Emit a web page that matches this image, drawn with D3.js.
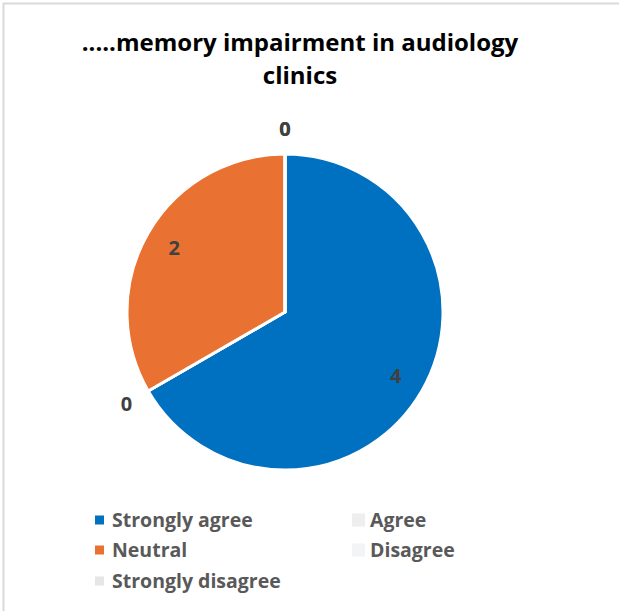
<!DOCTYPE html>
<html>
<head>
<meta charset="utf-8">
<script src="https://cdn.jsdelivr.net/npm/d3@7"></script>
<style>
  body { margin: 0; background: #fff; }
  svg { display: block; }
</style>
</head>
<body>
<svg width="619" height="611"></svg>
<script>
const categories = ["Strongly agree", "Agree", "Neutral", "Disagree", "Strongly disagree"];
const counts = [4, 0, 2, 0, 0];
const sliceColors = ["#0070C0", "#EEEEEE", "#E97132", "#F3F4F6", "#E6E6E6"];
const titleLines = [".....memory impairment in audiology", "clinics"];

const font = "'Open Sans', sans-serif";
const svg = d3.select("svg");
const data = categories.map((c, i) => ({ category: c, value: counts[i] }));

const color = d3.scaleOrdinal().domain(categories).range(sliceColors);

// chart border (cut off on the right and bottom in the original)
svg.append("rect")
    .attr("x", 3.5).attr("y", 3.5)
    .attr("width", 700).attr("height", 700)
    .attr("fill", "none")
    .attr("stroke", "#d9d9d9")
    .attr("stroke-width", 2);

// title
svg.append("text")
    .attr("y", 51)
    .attr("text-anchor", "middle")
    .style("font-family", font)
    .style("font-weight", 700)
    .style("font-size", "24px")
    .attr("fill", "#000")
    .selectAll("tspan")
    .data(titleLines)
    .enter().append("tspan")
    .attr("x", 300)
    .attr("dy", (d, i) => i === 0 ? 0 : 33)
    .text(d => d);

const cx = 285, cy = 312, radius = 158;

const pie = d3.pie().sort(null).value(d => d.value);
const arc = d3.arc().innerRadius(0).outerRadius(radius);
const arcs = pie(data);

const g = svg.append("g").attr("transform", `translate(${cx},${cy})`);

g.selectAll("path")
    .data(arcs)
    .enter().append("path")
    .attr("d", arc)
    .attr("fill", d => color(d.data.category))
    .attr("stroke", "#fff")
    .attr("stroke-width", 3)
    .attr("stroke-linejoin", "round");

// data labels: inside for slices, outside end for empty ones
const insideArc = d3.arc().innerRadius(radius * 0.81).outerRadius(radius * 0.81);
const outsideArc = d3.arc().innerRadius(radius + 25).outerRadius(radius + 25);

g.selectAll(".label")
    .data(arcs)
    .enter().append("text")
    .attr("class", "label")
    .attr("transform", d => {
        const p = d.value > 0 ? insideArc.centroid(d) : outsideArc.centroid(d);
        return `translate(${p[0]},${p[1]})`;
    })
    .attr("text-anchor", "middle")
    .attr("dy", "0.36em")
    .style("font-family", font)
    .style("font-weight", 700)
    .style("font-size", "20px")
    .attr("fill", "#404040")
    .text(d => d.data.value);

// legend
const legendCols = [95, 353];
const legendRows = [520, 550, 581];
const legend = svg.selectAll(".legend")
    .data(categories)
    .enter().append("g")
    .attr("class", "legend")
    .attr("transform", (d, i) => `translate(${legendCols[i % 2]},${legendRows[Math.floor(i / 2)]})`);

legend.append("rect")
    .attr("x", (d, i) => i % 2 === 1 ? -1 : 0)
    .attr("y", (d, i) => i % 2 === 1 ? -6.5 : -4.5)
    .attr("width", (d, i) => i % 2 === 1 ? 13 : 9)
    .attr("height", (d, i) => i % 2 === 1 ? 13 : 9)
    .attr("fill", d => color(d));

legend.append("text")
    .attr("x", 17)
    .attr("dy", "0.35em")
    .style("font-family", font)
    .style("font-weight", 700)
    .style("font-size", "19.5px")
    .attr("fill", "#595959")
    .text(d => d);
</script>
</body>
</html>
